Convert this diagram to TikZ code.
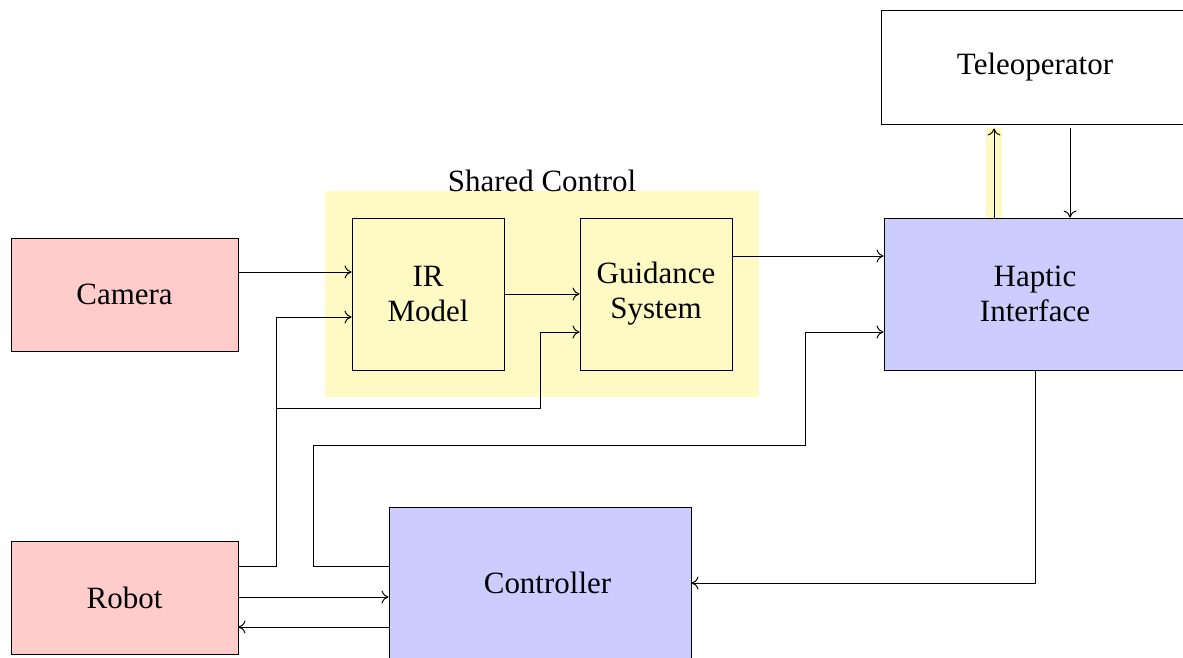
\documentclass[tikz,border=0pt]{standalone}
\usepackage{fontspec}
\setmainfont{Liberation Serif}
\usetikzlibrary{arrows.meta}
\newcommand\pxu{0.017699cm}
\definecolor{boxpink}{RGB}{255,204,204}
\definecolor{boxblue}{RGB}{204,204,255}
\definecolor{sharedyellow}{RGB}{255,249,196}
\begin{document}
\begin{tikzpicture}[x=\pxu, y=-\pxu, line width=0.5pt,
  txt/.style={font=\fontsize{15.6}{17.6}\selectfont, align=center},
  block/.style={draw, txt, inner sep=0pt},
  sensor/.style={block, fill=boxpink, minimum width=227*\pxu, minimum height=113*\pxu},
  module/.style={block, fill=sharedyellow, minimum width=152*\pxu, minimum height=152*\pxu},
  unit/.style={block, fill=boxblue, minimum width=302*\pxu, minimum height=152*\pxu},
  link/.style={-{To[length=3.5pt,width=6.5pt]}},
  glow/.style={draw=sharedyellow, line width=16*\pxu}
]
\useasboundingbox (0,0) rectangle (1183,657);

% shared control region
\node[fill=sharedyellow, inner sep=0pt, minimum width=434*\pxu, minimum height=206*\pxu] (shared) at (542,294) {};
\node[txt, anchor=base, inner sep=0pt] (sharedlabel) at (542,191) {Shared Control};

% blocks
\node[sensor] (cam) at (124.5,294.5) {Camera};
\node[sensor] (robot) at (124.5,597.5) {Robot};
\node[module] (ir) at (428,294) {IR\\Model};
\node[module] (gs) at (656,294) {Guidance\\System};
\node[block, fill=white, minimum width=308*\pxu, minimum height=114*\pxu] (tele) at (1035,67) {Teleoperator};
\node[unit] (hap) at (1035,294) {Haptic\\Interface};
\node[unit] (ctrl) at (540,583) {};
\node[txt] (ctrltext) at (547.5,583) {Controller};

% connectors
\coordinate (branch) at (276,408);
\draw[link] (cam.east |- 0,272) -- (ir.west |- 0,272);
\draw[link] (robot.east |- 0,566) -- (276,566) -- (276,317) -- (ir.west |- 0,317);
\draw[link] (branch) -- (540,408) -- (540,332) -- (gs.west |- 0,332);
\draw[link] (ir.east) -- (gs.west);
\draw[link] (gs.east |- 0,256) -- (hap.west |- 0,256);
\draw[link] (ctrl.west |- 0,566) -- (313,566) -- (313,445) -- (805,445) -- (805,332) -- (hap.west |- 0,332);
\draw[link] (robot.east |- 0,597) -- (ctrl.west |- 0,597);
\draw[link] (ctrl.west |- 0,627) -- (robot.east |- 0,627);
\draw[link] (hap.south) -- (hap.south |- ctrl.east) -- (ctrl.east);

% haptic interface <-> teleoperator
\draw[glow] (hap.north -| 994,0) -- (994,128);
\draw[link, shorten >=4*\pxu] (hap.north -| 994,0) -- (tele.south -| 994,0);
\draw[link, shorten <=4*\pxu] (tele.south -| 1070,0) -- (hap.north -| 1070,0);
\end{tikzpicture}
\end{document}
